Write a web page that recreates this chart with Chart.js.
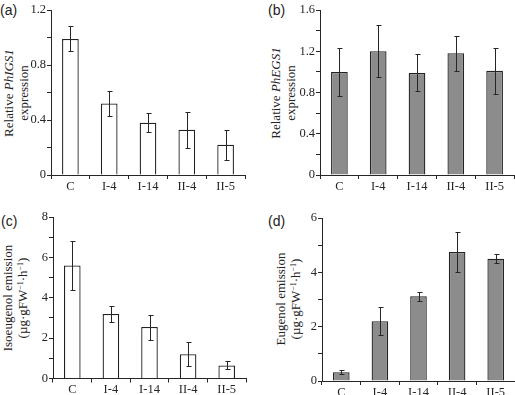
<!DOCTYPE html>
<html>
<head>
<meta charset="utf-8">
<script src="https://cdn.jsdelivr.net/npm/chart.js@4.4.1/dist/chart.umd.min.js"></script>
<style>
  body { margin: 0; background: #fff; width: 515px; height: 395px; overflow: hidden; position: relative; font-family: "Liberation Serif", serif; }
  canvas { position: absolute; }
  .tag { position: absolute; font-family: "Liberation Sans", Arial, sans-serif; font-size: 14px; line-height: 16px; color: #222; }
  .ytitle { position: absolute; width: 170px; text-align: center; font-size: 13px; line-height: 15px; color: #222;
            transform: translate(-50%, -50%) rotate(-90deg); white-space: nowrap; }
  sup { font-size: 8px; line-height: 0; vertical-align: 4px; }
</style>
</head>
<body>
<div class="tag" style="left:0px;top:2px">(a)</div>
<div class="tag" style="left:268px;top:2px">(b)</div>
<div class="tag" style="left:1px;top:213px">(c)</div>
<div class="tag" style="left:268px;top:213px">(d)</div>

<div class="ytitle" style="left:16px;top:92.5px">Relative <i>PhIGS1</i><br>expression</div>
<div class="ytitle" style="left:283px;top:92.5px">Relative <i>PhEGS1</i><br>expression</div>
<div class="ytitle" style="left:15px;top:297.5px">Isoeugenol emission<br>(µg·gFW<sup>−1</sup>·h<sup>−1</sup>)</div>
<div class="ytitle" style="left:288px;top:299px">Eugenol emission<br>(µg·gFW<sup>−1</sup>·h<sup>−1</sup>)</div>

<script>
const categories = ["C", "I-4", "I-14", "II-4", "II-5"];

// (a) relative PhIGS1 expression
const igsValues = [0.99, 0.52, 0.38, 0.33, 0.22];
const igsErrors = [0.09, 0.09, 0.07, 0.13, 0.11];
// (b) relative PhEGS1 expression
const egsValues = [1.00, 1.20, 0.99, 1.18, 1.01];
const egsErrors = [0.23, 0.25, 0.18, 0.17, 0.22];
// (c) isoeugenol emission
const isoValues = [5.6, 3.2, 2.55, 1.2, 0.65];
const isoErrors = [1.2, 0.4, 0.62, 0.6, 0.2];
// (d) eugenol emission
const eugValues = [0.32, 2.2, 3.12, 4.75, 4.5];
const eugErrors = [0.07, 0.52, 0.16, 0.72, 0.17];

const expressionTicks = { minor: 0.2, major: 0.4 };
const emissionTicks = { minor: 1, major: 2 };

const ink = "#262626";
const tickFont = { family: "Liberation Serif", size: 12.5 };

const errorBars = {
  id: "errorBars",
  afterDatasetsDraw(chart) {
    const ctx = chart.ctx;
    const y = chart.scales.y;
    chart.data.datasets.forEach((ds, di) => {
      const meta = chart.getDatasetMeta(di);
      meta.data.forEach((bar, i) => {
        const v = ds.data[i];
        const e = ds.errors[i];
        const top = Math.round(y.getPixelForValue(v + e)) + 0.5;
        const bot = Math.round(y.getPixelForValue(v - e)) + 0.5;
        const x = Math.round(bar.x) + 0.5;
        ctx.save();
        ctx.strokeStyle = ink;
        ctx.lineWidth = 1;
        ctx.beginPath();
        ctx.moveTo(x, top); ctx.lineTo(x, bot);
        ctx.moveTo(x - 2, top); ctx.lineTo(x + 3, top);
        ctx.moveTo(x - 2, bot); ctx.lineTo(x + 3, bot);
        ctx.stroke();
        ctx.restore();
      });
    });
  }
};

function makePanel(p) {
  const c = document.createElement("canvas");
  c.width = p.w;
  c.height = p.h;
  c.style.left = p.left + "px";
  c.style.top = p.top + "px";
  document.body.appendChild(c);

  new Chart(c, {
    type: "bar",
    data: {
      labels: categories,
      datasets: [{
        data: p.values,
        errors: p.errors,
        backgroundColor: p.fill,
        borderColor: "#222222",
        borderWidth: 1.3,
        barPercentage: 0.43,
        categoryPercentage: 1
      }]
    },
    options: {
      responsive: false,
      animation: false,
      events: [],
      layout: { padding: { left: 0, top: p.plotTop - p.top, right: p.left + p.w - p.plotRight, bottom: 0 } },
      plugins: { legend: { display: false }, tooltip: { enabled: false } },
      scales: {
        x: {
          grid: { offset: true, drawOnChartArea: false, tickLength: 4, color: ink },
          border: { color: ink },
          ticks: { font: tickFont, color: ink, padding: 0, maxRotation: 0 },
          afterFit: (s) => { s.height = p.top + p.h - p.plotBottom; }
        },
        y: {
          min: 0,
          max: p.max,
          grid: { drawOnChartArea: false, tickLength: 4, color: ink },
          border: { color: ink },
          ticks: {
            stepSize: p.ticks.minor,
            autoSkip: false,
            font: tickFont,
            color: ink,
            padding: 1,
            callback: (v) => {
              const k = v / p.ticks.major;
              if (Math.abs(k - Math.round(k)) > 1e-6) return "";
              return String(Math.round(v * 10) / 10);
            }
          },
          afterFit: (s) => { s.width = p.plotLeft - p.left; }
        }
      }
    },
    plugins: [errorBars]
  });
}

makePanel({ left: 0, top: 0, w: 257, h: 195, plotLeft: 51, plotRight: 245, plotTop: 10, plotBottom: 175,
  max: 1.2, ticks: expressionTicks, values: igsValues, errors: igsErrors, fill: "#ffffff" });
makePanel({ left: 258, top: 0, w: 257, h: 195, plotLeft: 320, plotRight: 514, plotTop: 10, plotBottom: 175,
  max: 1.6, ticks: expressionTicks, values: egsValues, errors: egsErrors, fill: "#8c8c8c" });
makePanel({ left: 0, top: 195, w: 257, h: 200, plotLeft: 53, plotRight: 246, plotTop: 217, plotBottom: 378.5,
  max: 8, ticks: emissionTicks, values: isoValues, errors: isoErrors, fill: "#ffffff" });
makePanel({ left: 258, top: 195, w: 257, h: 200, plotLeft: 322, plotRight: 515, plotTop: 218, plotBottom: 381,
  max: 6, ticks: emissionTicks, values: eugValues, errors: eugErrors, fill: "#8c8c8c" });
</script>
</body>
</html>
